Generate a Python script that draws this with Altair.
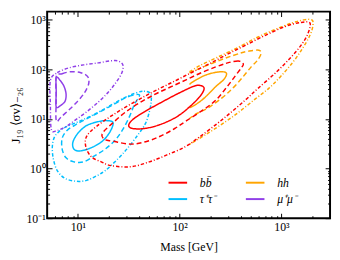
import altair as alt
import pandas as pd

# ---------------- data ----------------
BB, HH, TT, MM = "bb\u0304", "hh", "\u03c4\u207a\u03c4\u207b", "\u03bc\u207a\u03bc\u207b"
LEGEND_ORDER = [BB, TT, HH, MM]
LEGEND_COLORS = ["#ff0000", "#00bfff", "#ffa500", "#9040e8"]
LEVELS = ["1", "2", "3"]

# b bbar contours (mass [GeV], J19 <sigma v>_-26)
BB1_M = [174, 159, 136, 93.6, 64.2, 45.1, 34.5, 31.6, 34.5, 45.1, 64.2, 93.6, 125, 159]
BB1_J = [41.6, 47.6, 45.5, 31.7, 21.0, 14.0, 9.71, 7.39, 6.45, 6.45, 7.73, 11.1, 17.6, 28.9]
BB2_M = [422, 377, 296, 227, 163, 117, 83.8, 60.1, 43.1, 29.6, 21.7, 17.4, 18.2, 22.2,
         33.1, 48.2, 67.2, 89.5, 117, 170, 227, 289, 353, 404]
BB2_J = [130, 149, 136, 113, 86.1, 62.6, 45.5, 33.2, 23.0, 14.0, 8.09, 5.14, 3.91, 3.57,
         3.12, 3.57, 4.69, 6.45, 9.28, 15.3, 24.1, 43.5, 75.1, 108]
BB3_M = [1900, 1490, 1070, 687, 441, 296, 195, 130, 83.8, 53.8, 34.5, 22.2, 15.2, 12.2,
         12.0, 13.6, 17.0, 21.2, 33.1, 50.4, 75.0, 112, 155, 227, 316, 441, 588, 857,
         1195, 1555, 1820]
BB3_J = [875, 875, 729, 484, 307, 204, 130, 86.1, 54.6, 34.7, 21.0, 12.2, 7.06, 4.48,
         2.72, 1.73, 1.37, 1.15, 1.09, 1.37, 1.89, 2.72, 4.28, 7.73, 13.4, 24.1, 41.6,
         82.3, 163, 307, 531]

# hh contours (open: the channel starts at 125 GeV)
HH1_M = [125, 136, 174, 217, 265, 289, 271, 227, 174, 146, 125]
HH1_J = [49.9, 57.1, 75.1, 86.1, 90.1, 82.3, 62.6, 45.5, 26.4, 20.1, 16.8]
HH2_M = [125, 146, 203, 283, 395, 471, 601, 628, 575, 504, 413, 331, 259, 190, 146, 125]
HH2_J = [86.1, 98.6, 130, 170, 214, 234, 245, 204, 149, 113, 68.6, 41.6, 26.4, 16.8, 12.8, 10.2]
HH3_M = [125, 163, 237, 377, 575, 857, 1280, 1660, 1990, 2035, 1900, 1590, 1280, 978,
         750, 550, 395, 283, 195, 136, 125]
HH3_J = [90.1, 124, 178, 281, 442, 636, 875, 1002, 1002, 763, 484, 256, 136, 71.8,
         41.6, 25.2, 14.6, 8.87, 5.38, 3.41, 3.12]

# tau tau contours
TT1_M = [22.2, 19.4, 15.9, 12.2, 10.0, 8.95, 9.15, 10.45, 13.3, 17.4, 20.8]
TT1_J = [8.47, 9.28, 8.87, 7.39, 5.14, 3.41, 2.48, 2.27, 2.60, 3.57, 5.63]
TT2_M = [40.4, 34.5, 27.7, 21.2, 15.9, 12.2, 9.57, 7.84, 7.02, 7.02, 7.67, 9.15, 11.45,
         14.6, 18.6, 23.2, 27.7, 32.4, 36.1]
TT2_J = [30.3, 30.3, 25.2, 18.4, 13.4, 10.1, 7.73, 5.89, 4.09, 2.48, 1.65, 1.37, 1.37,
         1.81, 2.48, 3.74, 6.16, 11.6, 20.1]
TT3_M = [51.5, 43.1, 32.4, 24.8, 19.0, 14.2, 10.7, 8.19, 6.72, 5.88, 5.62, 5.75, 6.28,
         7.50, 9.78, 12.2, 14.9, 18.6, 24.8, 30.9, 38.6, 46.1, 50.4, 52.6]
TT3_J = [33.2, 36.3, 30.3, 23.0, 16.8, 12.2, 9.28, 7.39, 5.89, 4.28, 2.72, 1.58, 0.913,
         0.635, 0.554, 0.580, 0.695, 0.913, 1.58, 2.60, 4.69, 8.09, 14.0, 23.0]

# mu mu contours
MM1_M = [6.14, 6.72, 7.33, 7.67, 7.50, 6.87, 6.14, 6.14]
MM1_J = [68.6, 59.8, 45.5, 31.7, 23.0, 19.2, 17.6, 34.7]
MM2_M = [6.14, 7.02, 8.57, 10.7, 12.5, 12.8, 11.7, 10.0, 8.19, 6.87, 6.14, 6.14]
MM2_J = [71.8, 82.3, 90.1, 86.1, 71.8, 52.2, 34.7, 23.0, 15.3, 11.1, 9.28, 26.4]
MM3_M = [5.38, 6.28, 8.19, 11.45, 15.9, 20.8, 24.8, 27.7, 27.1, 23.7, 19.9, 15.9, 12.2,
         9.57, 7.67, 6.28, 5.50, 5.38]
MM3_J = [59.8, 86.1, 108, 124, 136, 149, 149, 124, 86.1, 54.6, 34.7, 22.0, 14.0, 9.71,
         7.06, 5.89, 6.16, 19.2]

X_MAJOR = [10, 100, 1000]
X_MINOR = [6, 7, 8, 9, 20, 30, 40, 50, 60, 70, 80, 90,
           200, 300, 400, 500, 600, 700, 800, 900, 2000]
Y_MAJOR = [0.1, 1, 10, 100, 1000]
Y_MINOR = [0.2, 0.3, 0.4, 0.5, 0.6, 0.7, 0.8, 0.9, 2, 3, 4, 5, 6, 7, 8, 9,
           20, 30, 40, 50, 60, 70, 80, 90, 200, 300, 400, 500, 600, 700, 800, 900]
X_DOMAIN = [5, 3000]
Y_DOMAIN = [0.1, 1470]

# ---------------- tables ----------------
def rows(ch, lev, ms, js):
    assert len(ms) == len(js)
    return [dict(ch=ch, lev=lev, cid=ch + lev, i=k, m=m, J=j)
            for k, (m, j) in enumerate(zip(ms, js))]

closed_rows = []
for ch, sets in [(TT, [TT1_M, TT1_J, TT2_M, TT2_J, TT3_M, TT3_J]),
                 (MM, [MM1_M, MM1_J, MM2_M, MM2_J, MM3_M, MM3_J]),
                 (BB, [BB1_M, BB1_J, BB2_M, BB2_J, BB3_M, BB3_J])]:
    for li in range(3):
        closed_rows += rows(ch, LEVELS[li], sets[2 * li], sets[2 * li + 1])
open_rows = []
for li, (ms, js) in enumerate([(HH1_M, HH1_J), (HH2_M, HH2_J), (HH3_M, HH3_J)]):
    open_rows += rows(HH, LEVELS[li], ms, js)

df_closed = pd.DataFrame(closed_rows)
df_open = pd.DataFrame(open_rows)
df_frame = pd.DataFrame({"m": X_DOMAIN, "J": Y_DOMAIN})

# ---------------- chart ----------------
W, H = 289, 211
FONT = "Liberation Serif"
xs = alt.Scale(type="log", domain=X_DOMAIN, nice=False)
ys = alt.Scale(type="log", domain=Y_DOMAIN, nice=False)

ax_x_lab = alt.Axis(values=X_MAJOR, ticks=False, tickSize=0, domain=False, grid=False,
                    labelExpr="datum.value < 50 ? '10\u00b9' : datum.value < 500 ? '10\u00b2' : '10\u00b3'",
                    labelPadding=4, title="Mass [GeV]", titlePadding=9, labelFlush=False)
ax_y_lab = alt.Axis(values=Y_MAJOR, ticks=False, tickSize=0, domain=False, grid=False,
                    labelExpr=("datum.value < 0.5 ? '10\u207b\u00b9' : datum.value < 5 ? '10\u2070' : "
                               "datum.value < 50 ? '10\u00b9' : datum.value < 500 ? '10\u00b2' : '10\u00b3'"),
                    labelPadding=2, title="J\u2081\u2089 \u27e8\u03c3v\u27e9\u208b\u2082\u2086",
                    titlePadding=4, titleFontSize=13, labelFlush=False)


def tick_axis(orient, offset, values, size):
    return alt.Axis(orient=orient, offset=offset, values=values, labels=False, domain=False,
                    grid=False, ticks=True, tickSize=size, tickWidth=1, tickColor="black",
                    title="")


color_enc = alt.Color("ch:N", scale=alt.Scale(domain=LEGEND_ORDER, range=LEGEND_COLORS),
                      legend=alt.Legend(title=None, orient="none", legendX=123, legendY=164,
                                        columns=2, symbolType="stroke", symbolSize=361,
                                        symbolStrokeWidth=2, labelFont=FONT, labelFontSize=12,
                                        labelFontStyle="italic", labelOffset=12,
                                        columnPadding=22, rowPadding=0, padding=0,
                                        gridAlign="all", labelColor="black"))
dash_enc = alt.StrokeDash("lev:N", scale=alt.Scale(domain=LEVELS,
                                                   range=[[1, 0], [5, 3], [3.5, 2, 1, 2]]),
                          legend=None)

opened = alt.Chart(df_open).mark_line(interpolate="cardinal", strokeWidth=1.5, clip=True).encode(
    x=alt.X("m:Q", scale=xs, axis=tick_axis("top", -H, X_MAJOR, 5)),
    y=alt.Y("J:Q", scale=ys, axis=tick_axis("right", -W, Y_MAJOR, 5)),
    color=color_enc, strokeDash=dash_enc, detail="cid:N", order="i:Q")

closed = alt.Chart(df_closed).mark_line(interpolate="cardinal-closed", strokeWidth=1.5, clip=True).encode(
    x=alt.X("m:Q", scale=xs, axis=ax_x_lab),
    y=alt.Y("J:Q", scale=ys, axis=ax_y_lab),
    color=color_enc, strokeDash=dash_enc, detail="cid:N", order="i:Q")


def ghost(xa, ya):
    return alt.Chart(df_frame).mark_point(opacity=0).encode(
        x=alt.X("m:Q", scale=xs, axis=xa), y=alt.Y("J:Q", scale=ys, axis=ya))


t2 = ghost(tick_axis("top", -H, X_MINOR, 2.5), tick_axis("right", -W, Y_MINOR, 2.5))
t3 = ghost(tick_axis("bottom", -H, X_MAJOR, 5), tick_axis("left", -W, Y_MAJOR, 5))
t4 = ghost(tick_axis("bottom", -H, X_MINOR, 2.5), tick_axis("left", -W, Y_MINOR, 2.5))

chart = (
    alt.layer(opened, closed, t2, t3, t4)
    .resolve_axis(x="independent", y="independent")
    .properties(width=W, height=H, autosize=alt.AutoSizeParams(type="none"),
                padding={"left": 40, "top": 1, "right": 2, "bottom": 40})
    .configure_view(stroke="black", strokeWidth=2)
    .configure_axis(labelFont=FONT, labelFontSize=12, titleFont=FONT, titleFontSize=12,
                    titleFontWeight="normal", labelColor="black", titleColor="black")
)

chart.save("out.html", embed_options={"renderer": "svg", "actions": False})
